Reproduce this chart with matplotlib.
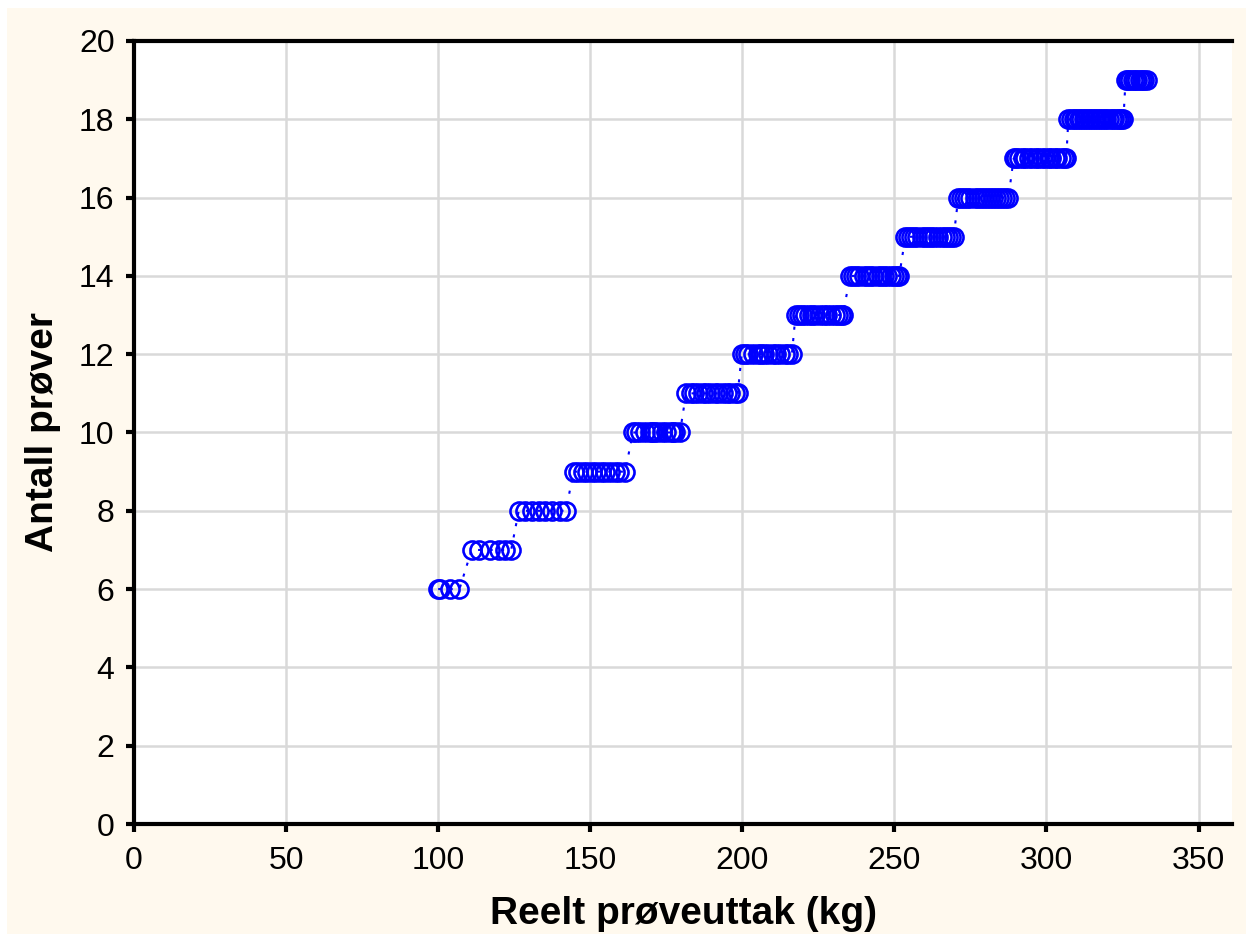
import matplotlib
matplotlib.use("Agg")
import matplotlib.pyplot as plt
from matplotlib.patches import Rectangle

plt.rcParams['font.family'] = ['Liberation Sans', 'DejaVu Sans']

# Data: sample weight (kg) per number of samples
levels = [6, 7, 8, 9, 10, 11, 12, 13, 14, 15, 16, 17, 18, 19]
w6 = [100.0, 100.5, 104.0, 107.0]
w7 = [111.0, 113.5, 117.0, 120.0, 122.0, 124.0]
w8 = [126.5, 128.5, 131.0, 133.0, 135.0, 137.5, 140.0, 142.0]
w9 = [144.5, 146.0, 147.5, 149.0, 150.5, 152.0, 153.5, 155.0, 156.5, 158.0, 159.5, 161.5]
w10 = [164.0, 165.0, 166.5, 168.0, 169.5, 170.2, 171.0, 172.0, 173.5, 175.0, 176.5, 177.2, 178.0, 179.5]
w11 = [181.5, 183.0, 184.0, 185.5, 187.0, 188.0, 189.5, 191.0, 192.0, 193.5, 195.0, 196.0, 197.5, 198.5]
w12 = [199.8, 201.0, 202.0, 203.5, 205.0, 206.0, 207.0, 208.5, 210.0, 211.0, 212.5, 214.0, 215.0, 216.3]
w13 = [217.5, 218.5, 219.5, 220.5, 222.0, 223.0, 224.0, 225.5, 227.0, 228.0, 229.0, 230.5, 231.5, 232.5, 233.0]
w14 = [235.5, 236.5, 237.5, 238.5, 240.0, 241.0, 242.0, 243.0, 244.5, 245.5, 246.5, 247.5, 249.0, 250.0, 251.0, 251.6]
w15 = [253.6, 254.5, 255.5, 256.5, 257.5, 259.0, 260.0, 261.0, 262.0, 263.0, 264.5, 265.5, 266.5, 267.5, 268.5, 269.5]
w16 = [271.0, 272.0, 273.0, 274.0, 275.0, 276.5, 277.5, 278.5, 279.5, 280.5, 281.5, 282.5, 283.5, 284.5, 285.5, 286.5, 287.5]
w17 = [289.2, 289.9, 291.1, 292.3, 293.0, 294.4, 295.2, 296.5, 297.3, 298.6, 299.4, 300.7, 301.5, 302.8, 303.6, 304.9, 305.7, 306.5]
w18 = [307.2, 308.0, 308.9, 309.7, 310.6, 311.3, 312.2, 313.0, 313.9, 314.6, 315.5, 316.3, 317.2, 318.0, 318.8,
       319.7, 320.5, 321.4, 322.2, 323.1, 323.8, 324.6, 325.3]
w19 = [326.0, 326.8, 327.5, 328.3, 329.0, 329.8, 330.6, 331.4, 332.2, 333.0]
weights_by_level = [w6, w7, w8, w9, w10, w11, w12, w13, w14, w15, w16, w17, w18, w19]

x_ticks = [0, 50, 100, 150, 200, 250, 300, 350]
y_ticks = [0, 2, 4, 6, 8, 10, 12, 14, 16, 18, 20]
x_label = "Reelt prøveuttak (kg)"
y_label = "Antall prøver"

xs, ys = [], []
for lvl, ws in zip(levels, weights_by_level):
    for w in ws:
        xs.append(w)
        ys.append(lvl)

W, H = 1253, 942
fig = plt.figure(figsize=(W / 100, H / 100), dpi=100, facecolor='white')
fig.patches.append(Rectangle((7 / W, 8 / H), (W - 14) / W, (H - 16) / H,
                             transform=fig.transFigure, facecolor='#FFF9EE',
                             edgecolor='none', zorder=-10))

left, right, top, bottom = 134, 1232, 41, 824
ax = fig.add_axes([left / W, 1 - bottom / H, (right - left) / W, (bottom - top) / H])
ax.set_facecolor('white')

ax.plot(xs, ys, linestyle=(0, (1.5, 4)), color='#0000FF', linewidth=1.5,
        marker='o', markersize=13, markerfacecolor='none',
        markeredgecolor='#0000FF', markeredgewidth=1.9, zorder=3)

ax.set_xlim(0, 361)
ax.set_ylim(0, 20)
ax.set_xticks(x_ticks)
ax.set_yticks(y_ticks)
ax.grid(True, color='#D9D9D9', linewidth=1.8, zorder=0)
ax.set_axisbelow(True)

for s in ['left', 'bottom', 'top']:
    ax.spines[s].set_linewidth(3)
    ax.spines[s].set_color('black')
ax.spines['right'].set_visible(False)

ax.tick_params(axis='both', which='major', labelsize=23, width=3, length=6,
               direction='out', colors='black')
ax.tick_params(axis='x', pad=10)
ax.tick_params(axis='y', pad=8)

ax.set_xlabel(x_label, fontsize=28, fontweight='bold', labelpad=14)
ax.set_ylabel(y_label, fontsize=28, fontweight='bold', labelpad=13)

fig.savefig('out.png', dpi=100, facecolor='white')
